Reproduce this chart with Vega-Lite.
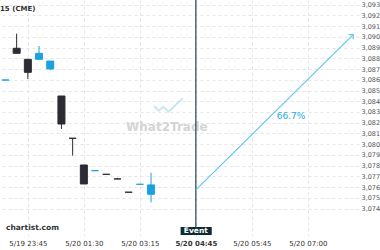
{
  "$schema": "https://vega.github.io/schema/vega-lite/v6.json",
  "width": 359,
  "height": 236,
  "autosize": {"type": "none"},
  "padding": {"left": 0, "top": 0, "right": 21, "bottom": 14},
  "background": "white",
  "config": {
    "view": {"stroke": null},
    "font": "DejaVu Sans"
  },
  "title": {"text": "15 (CME)", "anchor": "start", "frame": "group", "offset": -13, "fontSize": 7, "fontWeight": "bold", "color": "#333333"},
  "datasets": {
    "candles": [
      {"t": -2, "open": 3085.98, "high": 3085.98, "low": 3085.98, "close": 3085.98, "dir": "up"},
      {"t": -1, "open": 3088.94, "high": 3090.3, "low": 3088.47, "close": 3088.47, "dir": "down"},
      {"t": 0, "open": 3087.91, "high": 3087.91, "low": 3086.08, "close": 3086.7, "dir": "down"},
      {"t": 1, "open": 3087.91, "high": 3089.15, "low": 3087.91, "close": 3088.47, "dir": "up"},
      {"t": 2, "open": 3087.01, "high": 3087.75, "low": 3086.89, "close": 3087.75, "dir": "up"},
      {"t": 3, "open": 3084.49, "high": 3084.49, "low": 3081.42, "close": 3081.88, "dir": "down"},
      {"t": 4, "open": 3080.55, "high": 3080.55, "low": 3078.93, "close": 3080.55, "dir": "down"},
      {"t": 5, "open": 3078.06, "high": 3078.06, "low": 3076.29, "close": 3076.29, "dir": "down"},
      {"t": 6, "open": 3077.53, "high": 3077.53, "low": 3077.53, "close": 3077.53, "dir": "up"},
      {"t": 7, "open": 3077.19, "high": 3077.19, "low": 3077.19, "close": 3077.19, "dir": "down"},
      {"t": 8, "open": 3076.76, "high": 3076.85, "low": 3076.76, "close": 3076.76, "dir": "down"},
      {"t": 9, "open": 3075.52, "high": 3075.52, "low": 3075.52, "close": 3075.52, "dir": "down"},
      {"t": 10, "open": 3076.26, "high": 3076.26, "low": 3076.26, "close": 3076.26, "dir": "up"},
      {"t": 11, "open": 3075.33, "high": 3077.34, "low": 3074.58, "close": 3076.2, "dir": "up"}
    ]
  },
  "layer": [
    {
      "data": {"name": "candles"},
      "mark": {"type": "rule", "strokeWidth": 1},
      "encoding": {
        "x": {
          "field": "t", "type": "quantitative",
          "scale": {"domain": [-2.04, 29.12], "nice": false, "zero": false},
          "axis": {
            "values": [0, 5, 10, 15, 20, 25],
            "tickCount": 12,
            "labelExpr": "['5/19 23:45','5/20 01:30','5/20 03:15','5/20 04:45','5/20 05:45','5/20 07:00'][round(datum.value/5)]",
            "ticks": false, "domain": false, "grid": true,
            "gridDash": [3, 3], "gridColor": "#e4e4e4",
            "labelFontSize": 7, "labelColor": "#333333", "labelPadding": 3,
            "labelOverlap": false,
            "labelFontWeight": {"condition": {"test": "datum.value == 15", "value": "bold"}, "value": "normal"},
            "title": null
          }
        },
        "y": {
          "field": "low", "type": "quantitative",
          "scale": {"domain": [3071.44, 3093.44], "nice": false, "zero": false},
          "axis": {
            "orient": "right",
            "values": [3074, 3075, 3076, 3077, 3078, 3079, 3080, 3081, 3082, 3083, 3084, 3085, 3086, 3087, 3088, 3089, 3090, 3091, 3092, 3093],
            "tickCount": 30,
            "format": ",.0f", "ticks": false, "domain": false, "grid": true,
            "gridDash": [3, 3], "gridColor": "#e4e4e4",
            "labelFontSize": 6.5, "labelColor": "#555555", "labelPadding": 2,
            "labelOverlap": false,
            "title": null
          }
        },
        "y2": {"field": "high"},
        "color": {"field": "dir", "type": "nominal", "scale": {"domain": ["up", "down"], "range": ["#1ba1e2", "#2b2b33"]}, "legend": null}
      }
    },
    {
      "data": {"values": [{"label": "What2Trade", "t": 12.41, "v": 3081.6}]},
      "mark": {"type": "text", "fontSize": 12, "fontWeight": "bold", "color": "#d4d4d4", "align": "center", "baseline": "middle"},
      "encoding": {
        "x": {"field": "t", "type": "quantitative"},
        "y": {"field": "v", "type": "quantitative", "axis": {"orient": "right"}},
        "text": {"field": "label"}
      }
    },
    {
      "data": {"values": [
        {"t": 11.27, "v": 3083.56, "o": 1},
        {"t": 11.7, "v": 3083.12, "o": 2},
        {"t": 12.08, "v": 3083.49, "o": 3},
        {"t": 12.57, "v": 3083.03, "o": 4},
        {"t": 13.82, "v": 3084.28, "o": 5}
      ]},
      "mark": {"type": "line", "color": "#c6e7f6", "strokeWidth": 2},
      "encoding": {
        "x": {"field": "t", "type": "quantitative"},
        "y": {"field": "v", "type": "quantitative", "axis": {"orient": "right"}},
        "order": {"field": "o"}
      }
    },
    {
      "data": {"name": "candles"},
      "mark": {"type": "bar", "width": 7, "strokeWidth": 1},
      "encoding": {
        "x": {"field": "t", "type": "quantitative"},
        "y": {"field": "open", "type": "quantitative", "axis": {"orient": "right"}},
        "y2": {"field": "close"},
        "color": {"field": "dir", "type": "nominal", "legend": null},
        "stroke": {"field": "dir", "type": "nominal", "scale": {"domain": ["up", "down"], "range": ["#1ba1e2", "#2b2b33"]}, "legend": null}
      }
    },
    {
      "data": {"values": [{"t": 15, "top": 3093.44, "bottom": 3072.28}]},
      "mark": {"type": "rule", "color": "#24434a", "strokeWidth": 1.2},
      "encoding": {
        "x": {"field": "t", "type": "quantitative"},
        "y": {"field": "top", "type": "quantitative", "axis": {"orient": "right"}},
        "y2": {"field": "bottom"}
      }
    },
    {
      "data": {"values": [{"t1": 15, "v1": 3075.73, "t2": 29.05, "v2": 3090.21}]},
      "mark": {"type": "rule", "color": "#5bc4ee", "strokeWidth": 1.1},
      "encoding": {
        "x": {"field": "t1", "type": "quantitative"},
        "y": {"field": "v1", "type": "quantitative", "axis": {"orient": "right"}},
        "x2": {"field": "t2"},
        "y2": {"field": "v2"}
      }
    },
    {
      "data": {"values": [{"t": 29.05, "v": 3090.21}]},
      "mark": {"type": "point", "shape": "M-1,-1L0,0L-1,1", "filled": false, "color": "#5bc4ee", "strokeWidth": 1.1, "size": 40, "angle": 316, "opacity": 1},
      "encoding": {
        "x": {"field": "t", "type": "quantitative"},
        "y": {"field": "v", "type": "quantitative", "axis": {"orient": "right"}}
      }
    },
    {
      "data": {"values": [{"label": "66.7%", "t": 23.5, "v": 3082.63}]},
      "mark": {"type": "text", "fontSize": 9, "color": "#29a8e0", "align": "center", "baseline": "middle"},
      "encoding": {
        "x": {"field": "t", "type": "quantitative"},
        "y": {"field": "v", "type": "quantitative", "axis": {"orient": "right"}},
        "text": {"field": "label"}
      }
    },
    {
      "data": {"values": [{"t1": 13.64, "t2": 16.42, "v1": 3071.53, "v2": 3072.28}]},
      "mark": {"type": "rect", "color": "#0d2b30"},
      "encoding": {
        "x": {"field": "t1", "type": "quantitative"},
        "x2": {"field": "t2"},
        "y": {"field": "v1", "type": "quantitative", "axis": {"orient": "right"}},
        "y2": {"field": "v2"}
      }
    },
    {
      "data": {"values": [{"label": "Event", "t": 15, "v": 3071.91}]},
      "mark": {"type": "text", "fontSize": 7.5, "fontWeight": "bold", "color": "white", "align": "center", "baseline": "middle"},
      "encoding": {
        "x": {"field": "t", "type": "quantitative"},
        "y": {"field": "v", "type": "quantitative", "axis": {"orient": "right"}},
        "text": {"field": "label"}
      }
    },
    {
      "data": {"values": [{"label": "chartist.com", "t": -1.95, "v": 3072.14}]},
      "mark": {"type": "text", "fontSize": 7.5, "fontWeight": "bold", "color": "#333333", "align": "left", "baseline": "middle"},
      "encoding": {
        "x": {"field": "t", "type": "quantitative"},
        "y": {"field": "v", "type": "quantitative", "axis": {"orient": "right"}},
        "text": {"field": "label"}
      }
    }
  ]
}
